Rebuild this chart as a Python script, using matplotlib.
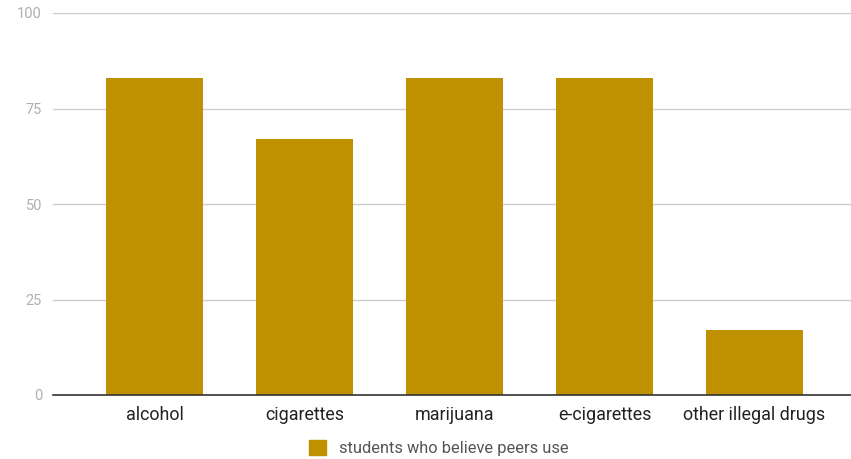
import matplotlib.pyplot as plt
from matplotlib.patches import Patch

plt.rcParams['font.family'] = ['Roboto', 'DejaVu Sans']

# Datos
categorias = ['alcohol', 'cigarettes', 'marijuana', 'e-cigarettes', 'other illegal drugs']
valores = [83, 67, 83, 83, 17]
serie = 'students who believe peers use'
yticks = [0, 25, 50, 75, 100]

color_barra = '#bf9000'

fig = plt.figure(figsize=(8.51, 4.59), dpi=100)
ax = fig.add_axes([53 / 851, 64 / 459, 1 - 53 / 851, (395 - 13) / 459])

x = list(range(len(categorias)))
ax.bar(x, valores, width=0.647, color=color_barra, zorder=3)

ax.set_xlim(-0.677, 4.643)
ax.set_ylim(0, 100)
ax.set_yticks(yticks)
ax.set_yticklabels([str(t) for t in yticks], color='#b0b0b0', fontsize=10.5)
ax.set_xticks(x)
ax.set_xticklabels(categorias, color='#222222', fontsize=12.9)
ax.tick_params(axis='both', length=0)
ax.tick_params(axis='y', pad=8)
ax.tick_params(axis='x', pad=8)

# Rejilla horizontal
ax.grid(axis='y', color='#cccccc', linewidth=1, zorder=0)
for lado in ['top', 'right', 'left']:
    ax.spines[lado].set_visible(False)
ax.spines['bottom'].set_color('#333333')
ax.spines['bottom'].set_linewidth(1.2)
ax.spines['bottom'].set_zorder(4)

# Leyenda abajo
fig.legend(handles=[Patch(color=color_barra, label=serie)],
           loc='center', bbox_to_anchor=(439 / 851, 1 - 448 / 459),
           frameon=False, fontsize=11.8, labelcolor='#555555',
           handlelength=1.0, handleheight=1.0, handletextpad=0.8)

fig.savefig('out.png', dpi=100)
